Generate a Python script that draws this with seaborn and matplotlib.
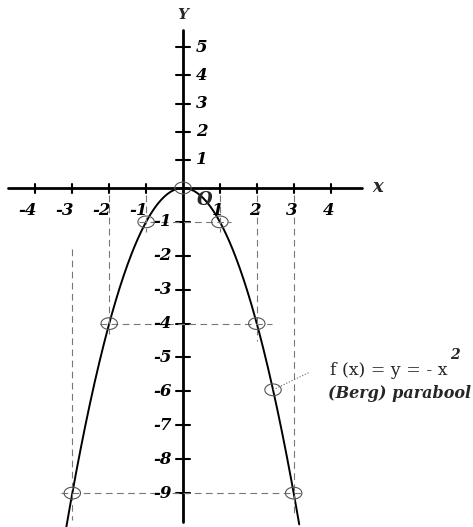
import numpy as np
import pandas as pd
import matplotlib
matplotlib.use("Agg")
import matplotlib.pyplot as plt
import seaborn as sns

# waardetabel van f(x) = -x^2
x_tab = [-3, -2, -1, 0, 1, 2, 3]
y_tab = [-9, -4, -1, 0, -1, -4, -9]
x_ticks = [-4, -3, -2, -1, 1, 2, 3, 4]
y_ticks = [-9, -8, -7, -6, -5, -4, -3, -2, -1, 1, 2, 3, 4, 5]
x_lead = 2.44  # punt waar het label aan hangt

sns.set_style("white")
plt.rcParams["font.family"] = ["DejaVu Serif"]

fig = plt.figure(figsize=(4.73, 5.27), dpi=100)
ax = fig.add_axes([0, 0, 1, 1])

# positieve y-as is in de scan wat korter
squash = 0.83
ax.set_yscale("function", functions=(lambda v: np.where(v > 0, v * squash, v),
                                     lambda v: np.where(v > 0, v / squash, v)))

# parabool
xs = np.linspace(-3.2, 3.15, 300)
curve = pd.DataFrame({"x": xs, "y": -xs ** 2})
sns.lineplot(data=curve, x="x", y="y", color="black", lw=1.4, sort=False, ax=ax)

# assen
ax.plot([-4.74, 4.85], [0, 0], color="black", lw=2)
ax.plot([0, 0], [-9.85, 5.6], color="black", lw=2)

bf = dict(fontsize=12, fontweight="bold", fontstyle="italic", color="black")
for x in x_ticks:
    ax.plot([x, x], [-0.15, 0.15], color="black", lw=1.5)
    dx = -0.2 if x < 0 else -0.05
    ax.text(x + dx, -0.65, str(x), ha="center", va="center", **bf)
for y in y_ticks:
    ax.plot([-0.2, 0.2], [y, y], color="black", lw=1.5)
    if y > 0:
        ax.text(0.35, y, str(y), ha="left", va="center", **bf)
    else:
        ax.text(-0.3, y, str(y), ha="right", va="center", **bf)

ax.text(0.38, -0.35, "O", ha="left", va="center", fontsize=13,
        fontweight="bold", fontstyle="italic")
ax.text(5.28, 0.05, "x", ha="center", va="center", fontsize=13,
        fontweight="bold", fontstyle="italic")
ax.text(0, 6.15, "Y", ha="center", va="center", fontsize=11,
        fontweight="bold", fontstyle="italic")

# hulplijnen
guide = dict(color="#777777", lw=0.8, dashes=(6, 4))
vlines = {-3: (-1.8, -9.8), -2: (-0.2, -4.3), -1: (-0.2, -1.3),
          1: (-0.2, -1.3), 2: (-0.2, -4.5), 3: (-0.2, -9.6)}
for x, (y0, y1) in vlines.items():
    ax.plot([x, x], [y0, y1], **guide)
hlines = {-1: (-1.2, 1.3), -4: (-2.25, 2.4), -9: (-3.3, 3.3)}
for y, (x0, x1) in hlines.items():
    ax.plot([x0, x1], [y, y], **guide)

# open ellipsen op de tabelpunten
t = np.linspace(0, 2 * np.pi, 40)
ell = np.c_[1.4 * np.cos(t), np.sin(t)]
pts = pd.DataFrame({"x": x_tab + [x_lead], "y": y_tab + [-x_lead ** 2]})
sns.scatterplot(data=pts, x="x", y="y", marker=ell, s=140, facecolors="none",
                edgecolors="#555555", linewidths=0.8, ax=ax, zorder=5)

# label
ax.plot([x_lead, 3.44], [-x_lead ** 2, -5.43], color="#666666", lw=0.8, ls=":")
ax.text(3.98, -5.37, "f (x) = y = - x", ha="left", va="center", fontsize=12.5,
        family="DejaVu Serif")
ax.text(7.36, -4.93, "2", ha="center", va="center", fontsize=10,
        fontweight="bold", fontstyle="italic", family="DejaVu Serif")
ax.text(3.92, -6.05, "(Berg) parabool", ha="left", va="center", fontsize=11.5,
        fontweight="bold", fontstyle="italic", family="DejaVu Serif")

ax.set_xlim(-4.96, 7.86)
ax.set_ylim(-10.0, 6.68)
ax.axis("off")

fig.savefig("out.png", dpi=100)
